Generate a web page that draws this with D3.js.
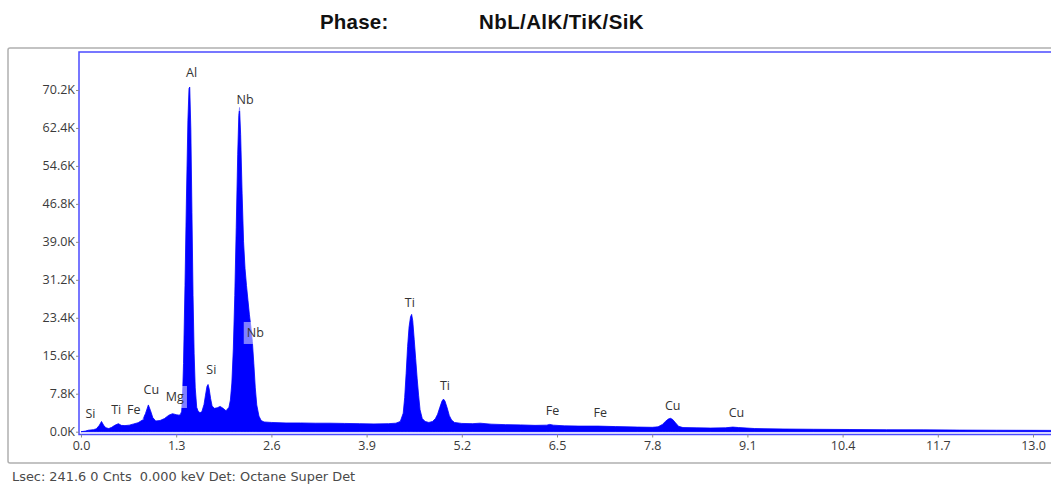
<!DOCTYPE html>
<html>
<head>
<meta charset="utf-8">
<script src="https://cdn.jsdelivr.net/npm/d3@7"></script>
<style>
  html, body { margin: 0; padding: 0; background: #fff; }
  svg { display: block; }
  .tick text { font-family: "Open Sans", "DejaVu Sans", sans-serif; font-size: 12.5px; fill: #3a3a3a; }
  .tick line { stroke: #8a8a8a; }
</style>
</head>
<body>
<svg id="chart" width="1051" height="488"></svg>
<script>
// EDS spectrum: energy (keV) and counts per channel
const energyKeV = [
  0.00, 0.06, 0.10, 0.17, 0.21, 0.25, 0.28, 0.31, 0.34, 0.38,
  0.42, 0.46, 0.51, 0.55, 0.60, 0.66, 0.72, 0.78, 0.84, 0.88,
  0.92, 0.95, 0.98, 1.02, 1.08, 1.14, 1.20, 1.25, 1.30, 1.34,
  1.36, 1.375, 1.39, 1.40, 1.42, 1.44, 1.46, 1.475, 1.485, 1.50,
  1.515, 1.53, 1.545, 1.56, 1.58, 1.60, 1.625, 1.65, 1.68, 1.70,
  1.72, 1.735, 1.75, 1.77, 1.79, 1.82, 1.86, 1.90, 1.94, 1.98,
  2.02, 2.04, 2.06, 2.08, 2.10, 2.12, 2.14, 2.155, 2.165, 2.18,
  2.20, 2.22, 2.24, 2.26, 2.28, 2.30, 2.32, 2.34, 2.36, 2.38,
  2.40, 2.43, 2.46, 2.50, 2.60, 2.80, 3.00, 3.20, 3.40, 3.60,
  3.80, 4.00, 4.20, 4.30, 4.36, 4.40, 4.42, 4.44, 4.46, 4.48,
  4.50, 4.515, 4.53, 4.55, 4.57, 4.59, 4.61, 4.63, 4.66, 4.70,
  4.75, 4.80, 4.84, 4.87, 4.90, 4.93, 4.95, 4.97, 5.00, 5.03,
  5.06, 5.10, 5.20, 5.35, 5.45, 5.60, 5.80, 6.00, 6.20, 6.36,
  6.40, 6.45, 6.60, 6.80, 7.06, 7.30, 7.60, 7.80, 7.88, 7.94,
  7.98, 8.02, 8.05, 8.08, 8.12, 8.16, 8.22, 8.40, 8.60, 8.80,
  8.90, 8.98, 9.20, 9.60, 10.00, 10.50, 11.00, 11.50, 12.00, 12.50,
  13.00, 13.30
];
const counts = [
  0, 120, 300, 420, 600, 1300, 2100, 1300, 800, 650,
  900, 1300, 1650, 1300, 1250, 1350, 1600, 1850, 2400, 3700,
  5500, 4300, 2900, 2200, 2300, 2700, 3400, 3700, 3500, 3400,
  3600, 4200, 9000, 14000, 30000, 48000, 64000, 70500, 70800, 62000,
  45000, 28000, 16000, 9000, 5000, 4200, 3900, 4100, 5600, 7500,
  9300, 9700, 8800, 6800, 5300, 4800, 4900, 5200, 4800, 4300,
  5000, 6500, 10000, 17000, 28000, 42000, 57000, 65000, 66600, 61000,
  49000, 39000, 33500, 30000, 27000, 24000, 21500, 18500, 14000, 9000,
  5500, 3200, 2300, 2000, 1900, 1800, 1800, 1750, 1750, 1700,
  1650, 1600, 1650, 1750, 2100, 3800, 7000, 12000, 17500, 21500,
  23600, 24100, 22800, 19000, 15000, 11000, 7500, 4500, 2700, 2100,
  1900, 2100, 2700, 3600, 5000, 6300, 6700, 6300, 4900, 3300,
  2400, 1900, 1700, 1650, 1750, 1550, 1450, 1400, 1300, 1350,
  1500, 1350, 1200, 1150, 1150, 1050, 950, 900, 1000, 1500,
  2100, 2600, 2750, 2500, 1800, 1100, 850, 800, 750, 800,
  950, 850, 650, 550, 500, 450, 400, 380, 330, 300,
  280, 270
];

// Axis ticks
const xTicks = [0.0, 1.3, 2.6, 3.9, 5.2, 6.5, 7.8, 9.1, 10.4, 11.7, 13.0];
const yTicks = [0, 7800, 15600, 23400, 31200, 39000, 46800, 54600, 62400, 70200];

// Peak identification labels: element, energy (keV), label height (counts)
const peakNames  = ["Si", "Ti", "Fe", "Cu", "Mg", "Si", "Al", "Nb", "Nb", "Ti", "Ti", "Fe", "Fe", "Cu", "Cu"];
const peakEnergy = [0.13, 0.48, 0.72, 0.96, 1.28, 1.78, 1.51, 2.24, 2.38, 4.49, 4.97, 6.44, 7.09, 8.08, 8.95];
const peakHeight = [3840, 4660, 4660, 8570, 7130, 12880, 73790, 68140, 20280, 26640, 9390, 4350, 3940, 5480, 3940];

const titleLabel = "Phase:";
const phaseName = "NbL/AlK/TiK/SiK";
const statusLine = "Lsec: 241.6 0 Cnts  0.000 keV Det: Octane Super Det";

const svg = d3.select("#chart");
const W = 1051, H = 488;
svg.append("rect").attr("width", W).attr("height", H).attr("fill", "#fff");

// Layout
const plot = { left: 79, top: 52, right: 1058, bottom: 434.5 };
const x = d3.scaleLinear().domain([0, 13]).range([81, 1033]);
const y = d3.scaleLinear().domain([0, 78000]).range([431.7, plot.top]);

// Title
svg.append("text")
  .attr("x", 320).attr("y", 28.5)
  .attr("font-family", "Liberation Sans, Arial, sans-serif")
  .attr("font-weight", "bold").attr("font-size", 20.5)
  .attr("letter-spacing", 0.2)
  .attr("fill", "#111")
  .text(titleLabel);
svg.append("text")
  .attr("x", 479).attr("y", 28.5)
  .attr("font-family", "Liberation Sans, Arial, sans-serif")
  .attr("font-weight", "bold").attr("font-size", 20.5)
  .attr("letter-spacing", 0.4)
  .attr("fill", "#111")
  .text(phaseName);

// Outer panel frame
svg.append("rect")
  .attr("x", 8).attr("y", 48)
  .attr("width", 1100).attr("height", 415)
  .attr("rx", 2)
  .attr("fill", "#fff")
  .attr("stroke", "#b0b0b0").attr("stroke-width", 1.5);

// Clip for the spectrum
svg.append("defs").append("clipPath").attr("id", "plotClip")
  .append("rect")
  .attr("x", plot.left).attr("y", plot.top)
  .attr("width", plot.right - plot.left).attr("height", plot.bottom - plot.top);

const spectrum = energyKeV.map((e, i) => [e, counts[i]]);
const area = d3.area()
  .x(d => x(d[0]))
  .y0(y(0))
  .y1(d => y(d[1]))
  .curve(d3.curveLinear);

svg.append("g").attr("clip-path", "url(#plotClip)")
  .append("path")
  .datum(spectrum)
  .attr("d", area)
  .attr("fill", "#0000ff")
  .attr("stroke", "#0000ff")
  .attr("stroke-width", 0.8);

// Peak labels with translucent backgrounds
const labelG = svg.append("g");
peakNames.forEach((name, i) => {
  const cx = x(peakEnergy[i]);
  const cy = y(peakHeight[i]);
  const g = labelG.append("g");
  const t = g.append("text")
    .attr("x", cx).attr("y", cy)
    .attr("text-anchor", "middle")
    .attr("dominant-baseline", "central")
    .attr("font-family", "Open Sans, DejaVu Sans, sans-serif")
    .attr("font-size", 12.5)
    .attr("fill", "#333")
    .text(name);
  const bb = t.node().getBBox();
  g.insert("rect", "text")
    .attr("x", bb.x - 3).attr("y", cy - 11)
    .attr("width", bb.width + 6).attr("height", 22)
    .attr("fill", "#fff").attr("fill-opacity", 0.5);
});

// Plot border
svg.append("rect")
  .attr("x", plot.left).attr("y", plot.top)
  .attr("width", plot.right - plot.left).attr("height", plot.bottom - plot.top)
  .attr("fill", "none")
  .attr("stroke", "#4b4bff").attr("stroke-width", 1.5);

// Axes
const xAxis = d3.axisBottom(x)
  .tickValues(xTicks)
  .tickSize(3).tickPadding(4)
  .tickFormat(d => d.toFixed(1));
svg.append("g")
  .attr("transform", `translate(0,${plot.bottom})`)
  .call(xAxis)
  .call(g => g.select(".domain").remove());

const yAxis = d3.axisLeft(y)
  .tickValues(yTicks)
  .tickSize(3).tickPadding(1)
  .tickFormat(d => (d / 1000).toFixed(1) + "K");
svg.append("g")
  .attr("transform", `translate(${plot.left},0)`)
  .call(yAxis)
  .call(g => g.select(".domain").remove());

// Acquisition status line
svg.append("text")
  .attr("x", 12).attr("y", 481)
  .attr("font-family", "DejaVu Sans, sans-serif")
  .attr("font-size", 12.9)
  .attr("fill", "#4a4a4a")
  .style("white-space", "pre")
  .text(statusLine);
</script>
</body>
</html>
